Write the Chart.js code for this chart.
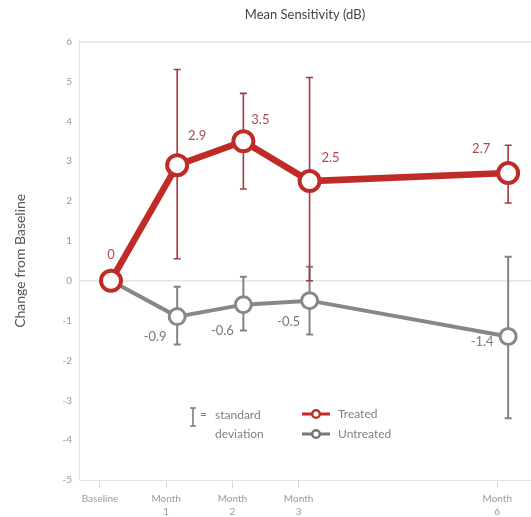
<!DOCTYPE html>
<html>
<head>
<meta charset="utf-8">
<script src="https://cdn.jsdelivr.net/npm/chart.js@4"></script>
<style>
  html, body { margin: 0; padding: 0; background: #fff; }
  #wrap { width: 531px; height: 517px; }
</style>
</head>
<body>
<div id="wrap"><canvas id="myChart"></canvas></div>
<script>
const months = [0, 1, 2, 3, 6];
const tickLabels = [["Baseline"], ["Month", "1"], ["Month", "2"], ["Month", "3"], ["Month", "6"]];

const treated = [0, 2.9, 3.5, 2.5, 2.7];
const treatedLow = [null, 0.55, 2.3, 0, 1.95];
const treatedHigh = [null, 5.3, 4.7, 5.1, 3.4];

const untreated = [0, -0.9, -0.6, -0.5, -1.4];
const untreatedLow = [null, -1.6, -1.25, -1.35, -3.45];
const untreatedHigh = [null, -0.15, 0.1, 0.35, 0.6];

const RED = "#bf2c27";
const RED_BAR = "#a8363e";
const RED_TEXT = "#b5464f";
const GREY = "#878787";
const GREY_BAR = "#838383";
const GREY_TEXT = "#7a7a7a";
const FONT = "Lato, 'Open Sans', sans-serif";

// label offsets (px) from each point
const treatedOffsets = [[0, -26], [20, -29], [17, -21], [21, -23], [-27, -24]];
const untreatedOffsets = [null, [-22, 20], [-21, 26], [-21, 21], [-26, 5]];

const toPoints = (ys) => ys.map((y, i) => ({ x: months[i], y: y }));

const errorBars = {
  id: "errorBars",
  beforeDatasetsDraw(chart) {
    const { ctx, scales } = chart;
    const sets = [
      [untreatedLow, untreatedHigh, GREY_BAR, 2],
      [treatedLow, treatedHigh, RED_BAR, 1.6]
    ];
    ctx.save();
    sets.forEach(([lo, hi, color, w]) => {
      ctx.strokeStyle = color;
      ctx.lineWidth = w;
      months.forEach((m, i) => {
        if (lo[i] == null) return;
        const x = scales.x.getPixelForValue(m);
        const y1 = scales.y.getPixelForValue(lo[i]);
        const y2 = scales.y.getPixelForValue(hi[i]);
        ctx.beginPath();
        ctx.moveTo(x, y1); ctx.lineTo(x, y2);
        ctx.moveTo(x - 3.5, y1); ctx.lineTo(x + 3.5, y1);
        ctx.moveTo(x - 3.5, y2); ctx.lineTo(x + 3.5, y2);
        ctx.stroke();
      });
    });
    ctx.restore();
  }
};

const valueLabels = {
  id: "valueLabels",
  afterDatasetsDraw(chart) {
    const { ctx, scales } = chart;
    ctx.save();
    ctx.font = "13px " + FONT;
    ctx.textAlign = "center";
    ctx.textBaseline = "middle";
    const sets = [[treated, treatedOffsets, RED_TEXT], [untreated, untreatedOffsets, GREY_TEXT]];
    sets.forEach(([vals, offs, color]) => {
      ctx.fillStyle = color;
      vals.forEach((v, i) => {
        if (!offs[i]) return;
        const x = scales.x.getPixelForValue(months[i]) + offs[i][0];
        const y = scales.y.getPixelForValue(v) + offs[i][1];
        ctx.fillText(String(v), x, y);
      });
    });
    ctx.restore();
  }
};

const innerLegend = {
  id: "innerLegend",
  afterDraw(chart) {
    const { ctx } = chart;
    ctx.save();
    // standard deviation key
    ctx.strokeStyle = "#7d7d7d";
    ctx.lineWidth = 1.6;
    ctx.beginPath();
    ctx.moveTo(193, 408); ctx.lineTo(193, 426);
    ctx.moveTo(190, 408); ctx.lineTo(196, 408);
    ctx.moveTo(190, 426); ctx.lineTo(196, 426);
    ctx.stroke();
    ctx.font = "12px " + FONT;
    ctx.fillStyle = "#808080";
    ctx.textBaseline = "middle";
    ctx.textAlign = "left";
    ctx.fillText("=", 200, 414);
    ctx.fillText("standard", 215, 415);
    ctx.fillText("deviation", 215, 434);
    // series keys
    const items = [["Treated", RED, 414], ["Untreated", "#777", 434]];
    items.forEach(([text, color, y]) => {
      ctx.strokeStyle = color;
      ctx.lineWidth = 3;
      ctx.beginPath();
      ctx.moveTo(302, y); ctx.lineTo(330, y);
      ctx.stroke();
      ctx.beginPath();
      ctx.arc(316, y, 3.8, 0, Math.PI * 2);
      ctx.fillStyle = "#fff";
      ctx.fill();
      ctx.lineWidth = 2.4;
      ctx.stroke();
      ctx.fillStyle = "#808080";
      ctx.fillText(text, 338, y);
    });
    ctx.restore();
  }
};

const data = {
  datasets: [
    {
      label: "Treated",
      data: toPoints(treated),
      borderColor: RED,
      backgroundColor: "#fff",
      borderWidth: 6.5,
      pointRadius: 10,
      pointBorderWidth: 4,
      pointBackgroundColor: "#fff",
      pointBorderColor: RED
    },
    {
      label: "Untreated",
      data: toPoints(untreated),
      borderColor: GREY,
      backgroundColor: "#fff",
      borderWidth: 4,
      pointRadius: 8,
      pointBorderWidth: 3,
      pointBackgroundColor: "#fff",
      pointBorderColor: GREY
    }
  ]
};

const config = {
  type: "line",
  data: data,
  plugins: [errorBars, valueLabels, innerLegend],
  options: {
    responsive: true,
    maintainAspectRatio: false,
    animation: false,
    layout: { padding: 0, autoPadding: false },
    plugins: {
      legend: { display: false },
      tooltip: { enabled: false },
      title: {
        display: true,
        text: "Mean Sensitivity (dB)",
        fullSize: false,
        color: "#444",
        font: { family: FONT, size: 13, weight: "normal" },
        padding: { top: 7, bottom: 19 }
      }
    },
    scales: {
      x: {
        type: "linear",
        display: false,
        min: -0.483,
        max: 6.345
      },
      x2: {
        type: "linear",
        axis: "x",
        position: "bottom",
        min: -0.317,
        max: 6.51,
        afterBuildTicks: (s) => { s.ticks = months.map((m) => ({ value: m })); },
        afterFit: (s) => { s.height = 37; },
        ticks: {
          autoSkip: false,
          maxRotation: 0,
          padding: 4,
          color: "#9a9a9a",
          font: { family: FONT, size: 10, lineHeight: 1.3 },
          callback: (v, i) => tickLabels[i]
        },
        grid: { drawOnChartArea: false, drawTicks: true, tickLength: 8, color: "#d8d8d8" },
        border: { color: "#e4e4e4" }
      },
      y: {
        min: -5,
        max: 6,
        afterFit: (s) => { s.width = 79; },
        ticks: {
          stepSize: 1,
          padding: 7,
          color: "#9a9a9a",
          font: { family: FONT, size: 10 }
        },
        grid: {
          drawTicks: false,
          color: (c) => (c.tick && (c.tick.value === 0 || c.tick.value === 6) ? "#e6e6e6" : "rgba(0,0,0,0)"),
          lineWidth: 1.5
        },
        border: { color: "#e4e4e4" },
        title: {
          display: true,
          text: "Change from Baseline",
          color: "#555",
          font: { family: FONT, size: 14 },
          padding: { top: 12, bottom: 0 }
        }
      }
    }
  }
};

const myChart = new Chart(document.getElementById("myChart"), config);
</script>
</body>
</html>
